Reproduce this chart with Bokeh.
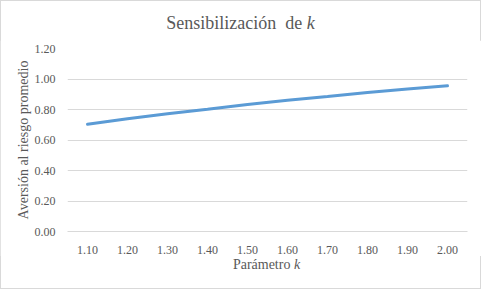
from bokeh.plotting import figure
from bokeh.models import FactorRange, Range1d, FixedTicker, NumeralTickFormatter, Div
from bokeh.layouts import column
from bokeh.embed import file_html
from bokeh.resources import INLINE

k_labels = ["1.10", "1.20", "1.30", "1.40", "1.50", "1.60", "1.70", "1.80", "1.90", "2.00"]
aversion = [0.703, 0.740, 0.772, 0.802, 0.833, 0.860, 0.885, 0.911, 0.934, 0.955]
y_ticks = [0.0, 0.2, 0.4, 0.6, 0.8, 1.0, 1.2]

FONT = "Liberation Serif"
GRAY = "#595959"
GRID = "#d9d9d9"

title_div = Div(text="Sensibilización&nbsp; de <i>k</i>", width=481, height=40, margin=0,
                styles={"font-family": FONT, "font-size": "18px", "color": GRAY,
                        "text-align": "center", "padding-top": "13px", "line-height": "normal"})

p = figure(width=481, height=216, output_backend="svg", toolbar_location=None,
           x_range=FactorRange(*k_labels, range_padding=0), y_range=Range1d(0, 1.2),
           min_border_left=67, min_border_right=14, min_border_top=8, min_border_bottom=24,
           margin=0)
p.outline_line_color = None

p.line(x=k_labels, y=aversion, line_color="#5b9bd5", line_width=3, line_cap="round")

p.xgrid.grid_line_color = None
p.ygrid.grid_line_color = GRID
p.yaxis.ticker = FixedTicker(ticks=y_ticks)
p.yaxis.formatter = NumeralTickFormatter(format="0.00")
p.yaxis.axis_line_color = None
p.xaxis.axis_line_color = GRID
for ax in (p.xaxis, p.yaxis):
    ax.major_tick_line_color = None
    ax.minor_tick_line_color = None
    ax.major_label_text_font = FONT
    ax.major_label_text_font_size = "12px"
    ax.major_label_text_color = GRAY
p.xaxis.major_label_standoff = 8
p.yaxis.major_label_standoff = 6
p.yaxis.axis_label = "Aversión al riesgo promedio"
p.yaxis.axis_label_text_font = FONT
p.yaxis.axis_label_text_font_size = "14px"
p.yaxis.axis_label_text_font_style = "normal"
p.yaxis.axis_label_text_color = GRAY
p.yaxis.axis_label_standoff = 1

xlabel_div = Div(text="<span style='position:relative;left:26px'>Parámetro <i>k</i></span>",
                 width=481, height=33, margin=0,
                 styles={"font-family": FONT, "font-size": "14px", "color": GRAY,
                         "text-align": "center", "line-height": "normal", "padding-top": "1px"})

layout = column(title_div, p, xlabel_div, spacing=0, margin=0,
                styles={"outline": "1px solid #d9d9d9", "outline-offset": "-1px"})

open("out.html", "w").write(file_html(layout, INLINE))
